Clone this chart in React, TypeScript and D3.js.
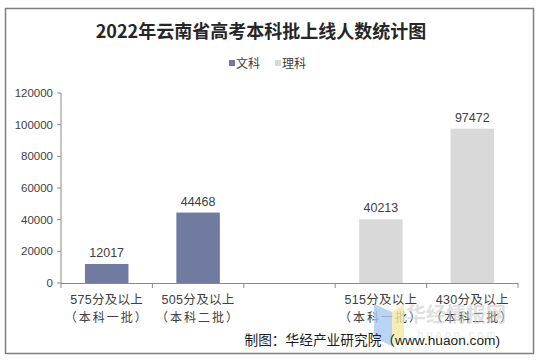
import React from "react";
import * as d3 from "d3";

const categories = ["575分及以上|（本科一批）", "505分及以上|（本科二批）", "", "515分及以上|（本科一批）", "430分及以上|（本科二批）"];
const wenke: (number | null)[] = [12017, 44468, null, null, null];
const like: (number | null)[] = [null, null, null, 40213, 97472];
const yTicks = [0, 20000, 40000, 60000, 80000, 100000, 120000];
const seriesNames = ["文科", "理科"];
const colors = ["#717b9f", "#d9d9d9"];

export default function App() {
  const W = 540, H = 362;
  const x = d3.scaleBand<number>().domain(d3.range(categories.length)).range([61, 518]).paddingInner(0).paddingOuter(0);
  const y = d3.scaleLinear().domain([0, 120000]).range([283, 93]);
  const bw = 43.5;
  const series = [wenke, like];
  const sans = "Arial, 'Liberation Sans', 'Noto Sans CJK SC', sans-serif";
  const cjk = "'Noto Sans CJK SC', sans-serif";
  const axisColor = "#8a8a8a";
  return (
    <svg width={W} height={H} style={{ position: "absolute", left: 0, top: 0 }}>
      <rect x={0} y={0} width={W} height={H} fill="#fff" />
      <rect x={5.5} y={8.5} width={528} height={345} fill="#fff" stroke="#7f7f7f" strokeWidth={1.5} />
      <text x={261} y={38} textAnchor="middle" fontFamily={cjk} fontWeight="bold" fontSize={18} fill="#262626">2022年云南省高考本科批上线人数统计图</text>
      {/* legend */}
      <rect x={229} y={60} width={6} height={6} fill={colors[0]} />
      <text x={236} y={67.5} fontFamily={cjk} fontSize={12} fill="#404040">{seriesNames[0]}</text>
      <rect x={275} y={60} width={6} height={6} fill={colors[1]} />
      <text x={282} y={67.5} fontFamily={cjk} fontSize={12} fill="#404040">{seriesNames[1]}</text>
      {/* y axis */}
      <line x1={61} x2={61} y1={y(120000)} y2={y(0)} stroke={axisColor} />
      {yTicks.map((t) => (
        <g key={t}>
          <line x1={57} x2={61} y1={y(t)} y2={y(t)} stroke={axisColor} />
          <text x={53} y={y(t) + 4} textAnchor="end" fontFamily={sans} fontSize={11.5} fill="#404040">{t}</text>
        </g>
      ))}
      {/* bars */}
      {series.map((s, si) =>
        s.map((v, i) => {
          if (v == null) return null;
          const cx = (x(i) as number) + x.bandwidth() / 2;
          return (
            <g key={si + "-" + i}>
              <rect x={cx - bw / 2} y={y(v)} width={bw} height={y(0) - y(v)} fill={colors[si]} />
              <text x={cx} y={y(v) - 7} textAnchor="middle" fontFamily={sans} fontSize={12.5} fill="#404040">{v}</text>
            </g>
          );
        })
      )}
      {/* x axis */}
      <line x1={61} x2={518} y1={283.5} y2={283.5} stroke={axisColor} />
      {d3.range(categories.length + 1).map((i) => {
        const xx = i < categories.length ? (x(i) as number) : 518;
        return <line key={i} x1={xx} x2={xx} y1={283} y2={288} stroke={axisColor} />;
      })}
      {categories.map((c, i) => {
        const cx = (x(i) as number) + x.bandwidth() / 2;
        const [l1, l2] = c.split("|");
        return (
          <g key={i}>
            <text x={cx} y={304} textAnchor="middle" fontFamily={sans} fontSize={12.5} fill="#404040" letterSpacing={0.3}>{l1}</text>
            <text x={cx} y={322} textAnchor="middle" fontFamily={cjk} fontSize={12} fill="#404040" letterSpacing={2}>{l2}</text>
          </g>
        );
      })}
      {/* watermark */}
      <polygon points="374,304 392,312 392,346 374,338" fill="#a9c9f2" opacity={0.8} />
      <polygon points="392,312 404,304 404,338 392,346" fill="#f6e7a3" opacity={0.8} />
      <text x={456} y={322} textAnchor="middle" fontFamily={cjk} fontWeight="bold" fontSize={20} fill="#c8c8c8" opacity={0.55}>华经情报网</text>
      <text x={458} y={338} textAnchor="middle" fontFamily={sans} fontSize={11} fill="#d8d8d8" letterSpacing={3} opacity={0.55}>huaon.com</text>
      <text x={500} y={345} textAnchor="end" fontFamily={sans} fontSize={13.7} fill="#1a1a1a">制图：华经产业研究院（www.huaon.com)</text>
    </svg>
  );
}
